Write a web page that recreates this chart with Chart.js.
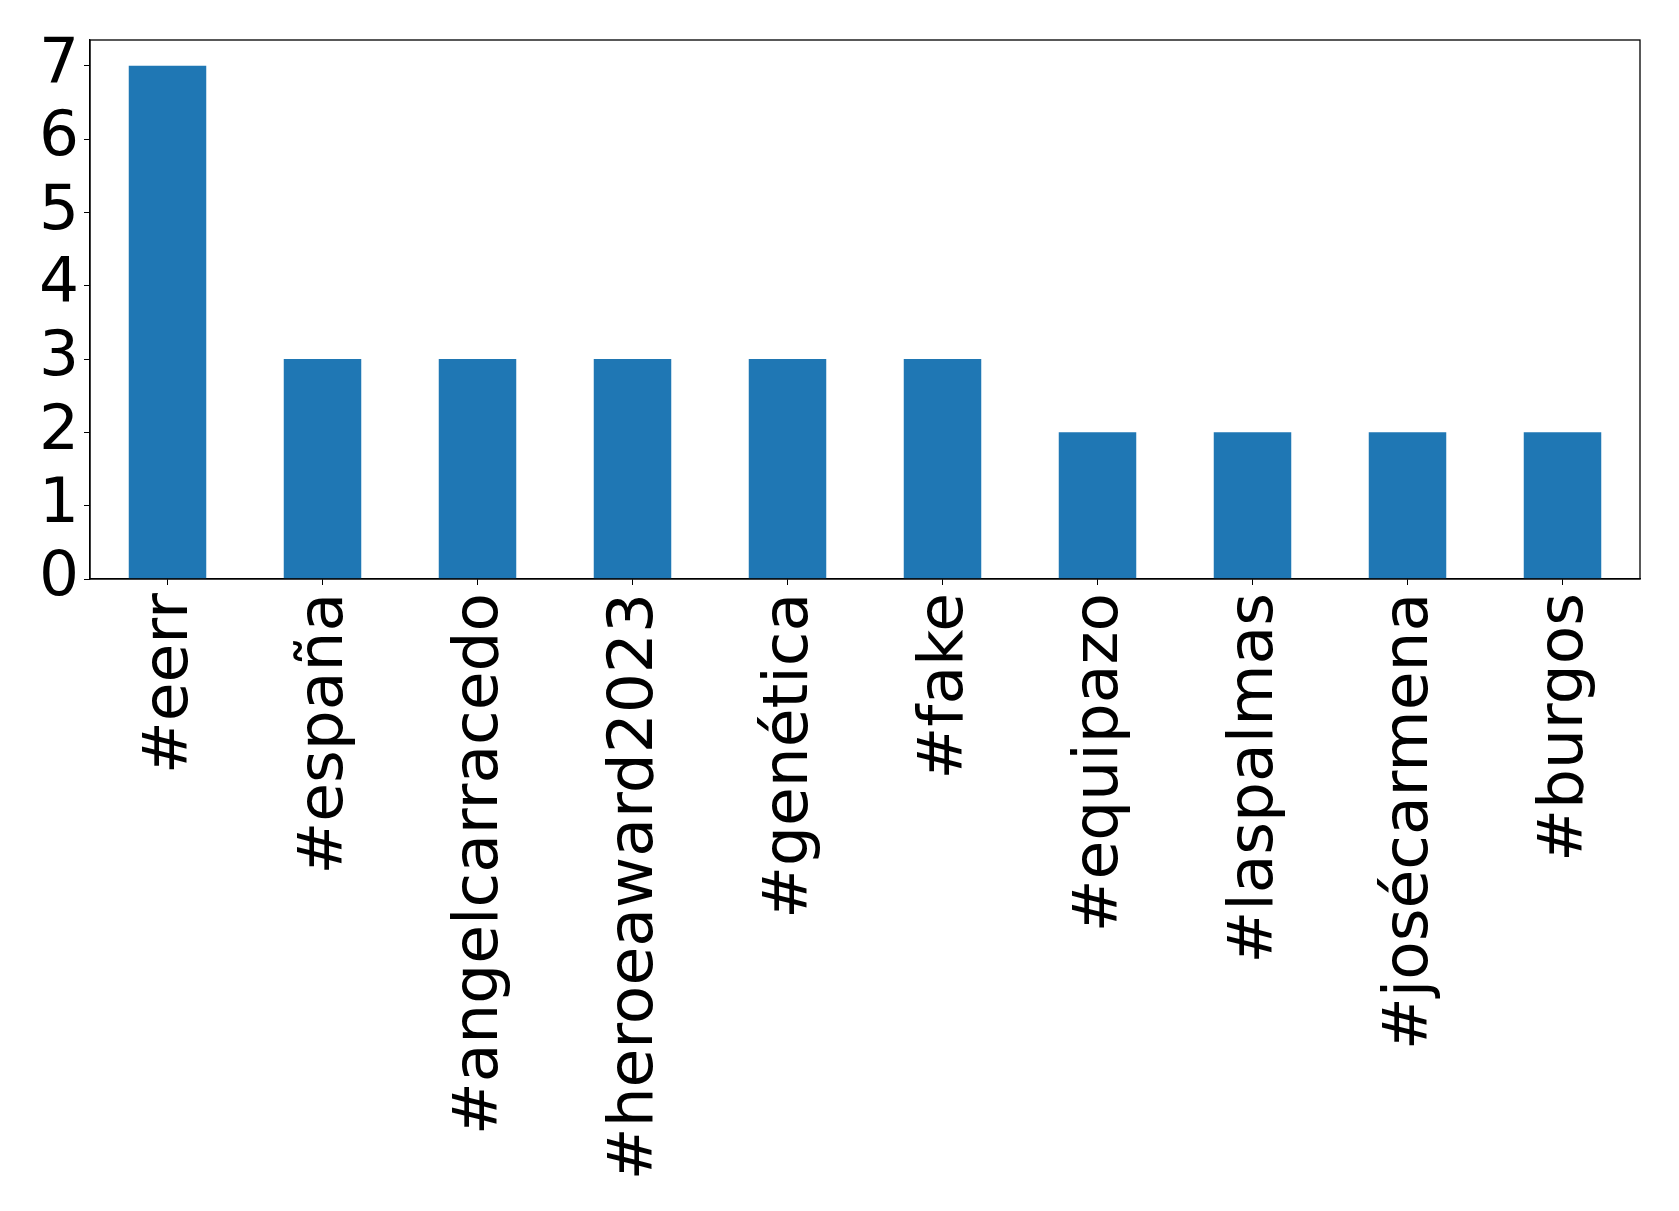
<!DOCTYPE html>
<html>
<head>
<meta charset="utf-8">
<script src="https://cdn.jsdelivr.net/npm/chart.js@4.4.0/dist/chart.umd.min.js"></script>
<style>
    html, body { margin: 0; padding: 0; background: #fff; }
    #wrap { width: 1679px; height: 1211px; }
</style>
</head>
<body>
<div id="wrap"><canvas id="barChart"></canvas></div>
<script>
const hashtags = ['#eerr', '#españa', '#angelcarracedo', '#heroeaward2023', '#genética',
    '#fake', '#equipazo', '#laspalmas', '#josécarmena', '#burgos'];
const counts = [7, 3, 3, 3, 3, 3, 2, 2, 2, 2];
const yTicks = [0, 1, 2, 3, 4, 5, 6, 7];

// draw the full box around the plot area, like matplotlib's spines
const frame = {
    id: 'frame',
    afterDraw(chart) {
        const a = chart.chartArea;
        const ctx = chart.ctx;
        ctx.save();
        ctx.strokeStyle = '#000';
        ctx.lineWidth = 1.3;
        ctx.strokeRect(a.left, a.top, a.right - a.left, a.bottom - a.top);
        ctx.restore();
    }
};

const ctx = document.getElementById('barChart').getContext('2d');
new Chart(ctx, {
    type: 'bar',
    data: {
        labels: hashtags,
        datasets: [{
            data: counts,
            backgroundColor: '#1f77b4',
            borderWidth: 0,
            barPercentage: 0.5,
            categoryPercentage: 1.0
        }]
    },
    options: {
        responsive: true,
        maintainAspectRatio: false,
        animation: false,
        layout: { padding: { top: 40, right: 39, bottom: 0, left: 0 } },
        plugins: {
            legend: { display: false },
            tooltip: { enabled: false }
        },
        scales: {
            x: {
                offset: true,
                grid: { display: true, drawOnChartArea: false, tickLength: 6, tickColor: '#000', offset: false },
                border: { display: true, color: '#000', width: 1.3 },
                // leave the same empty band under the long labels as the original
                afterFit(scale) {
                    scale.height = 632;
                },
                ticks: {
                    color: '#000',
                    font: { family: 'DejaVu Sans', size: 63 },
                    maxRotation: 90,
                    minRotation: 90,
                    autoSkip: false,
                    labelOffset: 3,
                    padding: 8
                }
            },
            y: {
                min: 0,
                max: 7.35,
                grid: { display: true, drawOnChartArea: false, tickLength: 6, tickColor: '#000' },
                border: { display: true, color: '#000', width: 1.3 },
                afterFit(scale) {
                    scale.width = 90;
                },
                afterBuildTicks(scale) {
                    scale.ticks = yTicks.map(v => ({ value: v }));
                },
                ticks: {
                    color: '#000',
                    font: { family: 'DejaVu Sans', size: 63, lineHeight: 1.0 },
                    padding: 5
                }
            }
        }
    },
    plugins: [frame]
});
</script>
</body>
</html>
